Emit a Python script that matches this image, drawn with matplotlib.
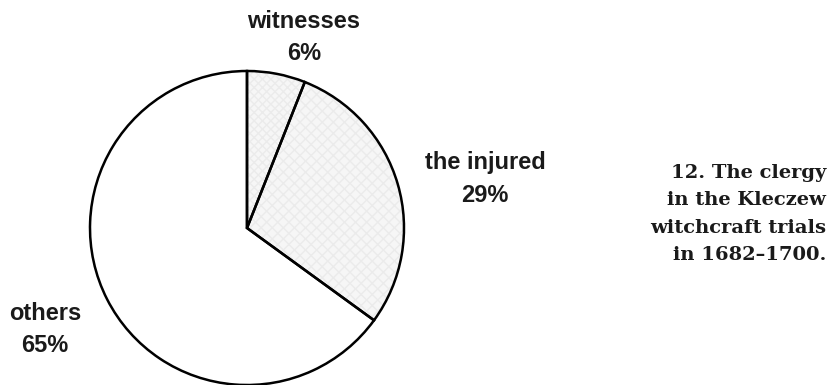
import matplotlib.pyplot as plt

labels = ["witnesses", "the injured", "others"]
shares = [6, 29, 65]
fills = ["#f6f6f6", "#f6f6f6", "white"]
hatches = ["xxxx", "xxx", None]

caption = "12. The clergy\nin the Kleczew\nwitchcraft trials\nin 1682\u20131700."

fig = plt.figure(figsize=(8.28, 3.85), dpi=100)
ax = fig.add_axes([0, 0, 1, 1])

# light stipple on the first two slices
wedges, _ = ax.pie(shares, colors=fills, startangle=90, counterclock=False,
                   center=(247, 157), radius=157, frame=True,
                   wedgeprops=dict(edgecolor="#ebebeb", linewidth=0))
for w, h in zip(wedges, hatches):
    if h:
        w.set_hatch(h)

# outlines
ax.pie(shares, colors=["none"] * 3, startangle=90, counterclock=False,
       center=(247, 157), radius=157, frame=True,
       wedgeprops=dict(edgecolor="black", linewidth=1.8))

ax.set_xlim(0, 828)
ax.set_ylim(0, 385)
ax.set_aspect("auto")
ax.axis("off")

lab_font = dict(family="Liberation Sans", fontsize=17, fontweight="bold",
                color="#1a1a1a", ha="center", va="center", linespacing=1.5)
pos = [(304, 347), (485, 206), (45, 56)]
for (x, y), name, v in zip(pos, labels, shares):
    ax.text(x, y, f"{name}\n{v}%", **lab_font)

ax.text(826, 171, caption, family="DejaVu Serif", fontsize=14,
        fontweight="bold", ha="right", va="center", linespacing=1.65,
        multialignment="right", color="#1a1a1a")

fig.savefig("out.png", dpi=100)
